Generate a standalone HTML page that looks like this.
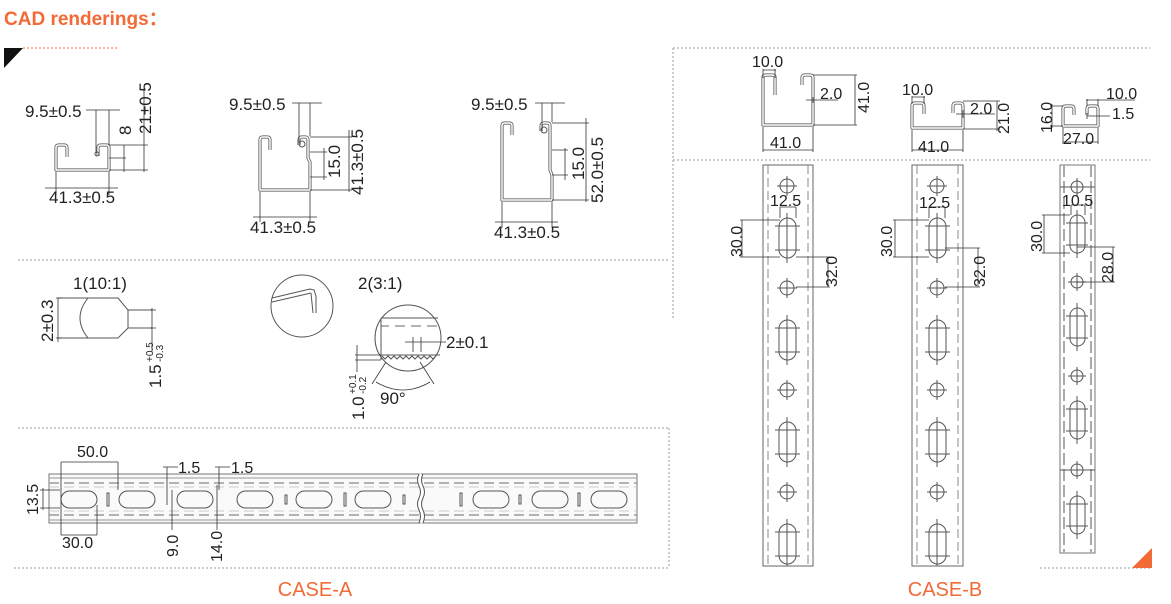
<!DOCTYPE html>
<html><head><meta charset="utf-8"><style>
html,body{margin:0;padding:0;background:#fff;}
svg{display:block;font-family:"Liberation Sans",Arial,sans-serif;}
.t{font-size:17px;fill:#222;}
.r{font-size:16px;fill:#222;}
.d{stroke:#333;stroke-width:0.8;fill:none;}
.ch{stroke:#666;stroke-width:3.2;fill:none;stroke-linejoin:round;}
.chi{stroke:#fff;stroke-width:1.4;fill:none;stroke-linejoin:round;}
.g{stroke:#999;stroke-width:1;stroke-dasharray:2 2;fill:none;}
.o{stroke:#555;stroke-width:1;fill:none;}
.dash{stroke:#888;stroke-width:1;stroke-dasharray:9 4;fill:none;}
</style></head><body>
<svg width="1171" height="604" viewBox="0 0 1171 604" xmlns="http://www.w3.org/2000/svg">
<text x="4" y="25" font-size="19" font-weight="bold" fill="#f26a35" font-family="Liberation Sans, Noto Sans CJK SC, sans-serif">CAD renderings：</text>
<polygon points="4,48 23,48 4,68" fill="#111"/>
<line x1="23" y1="48" x2="117" y2="48" stroke="#f26a35" stroke-width="1" stroke-dasharray="2 2"/>

<line class="g" x1="18" y1="260" x2="670" y2="260"/>
<line class="g" x1="18" y1="428" x2="670" y2="428"/>
<line class="g" x1="14" y1="568" x2="670" y2="568"/>
<line class="g" x1="669" y1="428" x2="669" y2="568"/>
<line class="g" x1="673" y1="48" x2="1150" y2="48"/>
<line class="g" x1="673" y1="48" x2="673" y2="320"/>
<line class="g" x1="673" y1="160" x2="1150" y2="160"/>
<line class="g" x1="1040" y1="568" x2="1150" y2="568"/>
<polygon points="1132,568 1152,548 1152,568" fill="#f26a35"/>

<!-- Profile 1 -->
<path class="ch" d="M67,157 V148 Q67,145 64,145 H59 Q56,145 56,148 V170 H109 V148 Q109,145 106,145 H101 Q98,145 98,148 V156"/>
<path class="chi" d="M67,157 V148 Q67,145 64,145 H59 Q56,145 56,148 V170 H109 V148 Q109,145 106,145 H101 Q98,145 98,148 V156"/>
<circle cx="97" cy="154" r="2" class="o"/>
<text class="t" x="25" y="117">9.5±0.5</text>
<path class="d" d="M86,110 H120 M96,110 V153 M109,110 V145 M109,145 H148 M109,170 H148 M109,158 H126 M124,145 V172 M144,88 V172 M56,172 V195 M109,172 V195 M45,188 H118"/>
<text class="t" transform="translate(131,135) rotate(-90)">8</text>
<text class="t" transform="translate(151,134) rotate(-90)">21±0.5</text>
<text class="t" x="49" y="203">41.3±0.5</text>

<!-- Profile 2 -->
<path class="ch" d="M270,150 V140 Q270,137 267,137 H263 Q260,137 260,140 V190 H310 V162 L308,158 V140 Q308,137 305,137 H302 Q299,137 299,141 V145"/>
<path class="chi" d="M270,150 V140 Q270,137 267,137 H263 Q260,137 260,140 V190 H310 V162 L308,158 V140 Q308,137 305,137 H302 Q299,137 299,141 V145"/>
<circle cx="302" cy="144" r="3" class="o"/>
<text class="t" x="229" y="110">9.5±0.5</text>
<path class="d" d="M292,103 H322 M299,103 V143 M310,103 V136 M310,137 H352 M310,190 H352 M310,152 H327 M310,177 H327 M324,148 V180 M349,130 V192 M260,192 V222 M310,192 V222 M253,217 H317"/>
<text class="t" transform="translate(340,178) rotate(-90)">15.0</text>
<text class="t" transform="translate(363,195) rotate(-90)">41.3±0.5</text>
<text class="t" x="250" y="233">41.3±0.5</text>

<!-- Profile 3 -->
<path class="ch" d="M512,135 V126 Q512,123 509,123 H505 Q502,123 502,126 V200 H552 V175 L550,170 V126 Q550,123 547,123 H544 Q541,123 541,127 V131"/>
<path class="chi" d="M512,135 V126 Q512,123 509,123 H505 Q502,123 502,126 V200 H552 V175 L550,170 V126 Q550,123 547,123 H544 Q541,123 541,127 V131"/>
<circle cx="544" cy="130" r="3" class="o"/>
<text class="t" x="471" y="110">9.5±0.5</text>
<path class="d" d="M535,103 H565 M542,103 V130 M552,103 V122 M552,123 H589 M552,200 H589 M552,150 H568 M552,175 H568 M565,148 V180 M586,118 V202 M502,202 V228 M552,202 V228 M495,222 H558"/>
<text class="t" transform="translate(584,180) rotate(-90)">15.0</text>
<text class="t" transform="translate(603,203) rotate(-90)">52.0±0.5</text>
<text class="t" x="494" y="238">41.3±0.5</text>

<!-- Detail 1 -->
<text class="t" x="73" y="289">1(10:1)</text>
<path class="o" d="M58,298 H118 L128,310 H152 M152,328 H128 L118,338 H58 M128,310 V328 M88,298 Q72,318 88,338"/>
<path class="d" d="M58,298 V342 M56,298 H62 M56,338 H62 M152,308 V352 M150,310 H156 M150,328 H156"/>
<text class="t" transform="translate(53,342) rotate(-90)">2±0.3</text>
<text class="t" transform="translate(161,388) rotate(-90)">1.5</text>
<text transform="translate(153,362) rotate(-90)" font-size="10" fill="#222">+0.5</text>
<text transform="translate(163,362) rotate(-90)" font-size="10" fill="#222">-0.3</text>

<!-- Detail 2 -->
<circle cx="302" cy="306" r="31" class="o"/>
<path class="o" d="M272,298 L310,289 L314,290 L316,296 L316,313 M272,302 L311,293 M311,293 L313,313"/>
<text class="t" x="358" y="289">2(3:1)</text>
<circle cx="408" cy="338" r="33" class="o"/>
<path class="o" d="M381,318 H438 M381,355 L440,355 M381,318 V360"/>
<path class="d" d="M381,326 H389 M395,326 H405 M411,326 H421 M427,326 H437" stroke-width="1.5"/>
<path class="o" d="M382,356 l3,3 l3,-3 l3,3 l3,-3 l3,3 l3,-3 l3,3 l3,-3 l3,3 l3,-3 l3,3 l3,-3 l3,3 l3,-3 l3,3 l3,-3 l3,3 l3,-3"/>
<path class="d" d="M405,342 H446 M413,337 V352 M421,337 V352 M355,355 H381 M355,360 H381 M357,345 V372 M386,362 L372,384 M420,362 L434,384 M376,382 Q403,398 430,382"/>
<text class="t" x="446" y="348">2±0.1</text>
<text class="t" x="380" y="404">90°</text>
<text class="t" transform="translate(364,420) rotate(-90)">1.0</text>
<text transform="translate(356,394) rotate(-90)" font-size="10" fill="#222">+0.1</text>
<text transform="translate(366,394) rotate(-90)" font-size="10" fill="#222">-0.2</text>

<!-- CASE-A strip -->
<rect x="49" y="474" width="588" height="49" fill="#fafafa" stroke="#777" stroke-width="1"/>
<path d="M49,478 H637 M49,520 H637" stroke="#aaa" stroke-width="1.2"/>
<path d="M49,483 H637 M49,515 H637" stroke="#999" stroke-width="1.5" stroke-dasharray="10 5"/>
<path d="M49,487 H637 M49,511 H637" stroke="#ccc" stroke-width="1" stroke-dasharray="10 5"/>
<path d="M421,474 q-3,6 0,12 q3,6 0,12 q-3,6 0,12 q3,6 0,13" stroke="#fff" stroke-width="3" fill="none"/>
<path d="M419,474 q-3,6 0,12 q3,6 0,12 q-3,6 0,12 q3,6 0,13 M423,474 q-3,6 0,12 q3,6 0,12 q-3,6 0,12 q3,6 0,13" class="o" stroke-width="0.8"/>
<g class="o" stroke="#666">
<rect x="61" y="491" width="36" height="17" rx="8.5"/>
<rect x="119" y="491" width="36" height="17" rx="8.5"/>
<rect x="177" y="491" width="36" height="17" rx="8.5"/>
<rect x="237" y="491" width="36" height="17" rx="8.5"/>
<rect x="296" y="491" width="36" height="17" rx="8.5"/>
<rect x="355" y="491" width="36" height="17" rx="8.5"/>
<rect x="473" y="491" width="36" height="17" rx="8.5"/>
<rect x="532" y="491" width="36" height="17" rx="8.5"/>
<rect x="591" y="491" width="36" height="17" rx="8.5"/>
<rect x="107" y="493" width="2" height="13"/>
<rect x="285" y="495" width="2" height="9"/>
<rect x="344" y="493" width="2" height="13"/>
<rect x="403" y="495" width="2" height="9"/>
<rect x="460" y="493" width="2" height="13"/>
<rect x="519" y="495" width="2" height="9"/>
<rect x="578" y="493" width="2" height="13"/>
</g>
<path class="d" d="M61,462 V514 M118,462 V490 M61,462 H118 M40,490 H60 M40,508 H60 M43,488 V510 M61,510 V535 M97,505 V535 M61,535 H97 M163,467 H178 M167,467 V505 M172,490 V530 M215,467 H230 M219,467 V490 M217,485 V530"/>
<text class="r" x="77" y="457">50.0</text>
<text class="r" x="178" y="473">1.5</text>
<text class="r" x="231" y="473">1.5</text>
<text class="r" transform="translate(38,515) rotate(-90)">13.5</text>
<text class="r" x="62" y="548">30.0</text>
<text class="r" transform="translate(178,557) rotate(-90)">9.0</text>
<text class="r" transform="translate(222,562) rotate(-90)">14.0</text>

<text x="315" y="596" text-anchor="middle" font-size="20" fill="#f26a35">CASE-A</text>
<text x="945" y="596" text-anchor="middle" font-size="20" fill="#f26a35">CASE-B</text>

<!-- B profiles -->
<path class="ch" d="M775,77 L775,95 M775,77 Q775,75 772,75 L766,75 Q763,75 763,78 L763,125 L813,125 L813,78 Q813,75 810,75 L805,75 Q802,75 802,78 L802,85"/>
<path class="chi" d="M775,77 L775,95 M775,77 Q775,75 772,75 L766,75 Q763,75 763,78 L763,125 L813,125 L813,78 Q813,75 810,75 L805,75 Q802,75 802,78 L802,85"/>
<text class="r" x="752" y="67">10.0</text>
<path class="d" d="M763,69 V78 M775,69 V78 M763,70 H776 M813,75 H857 M813,125 H857 M855,75 V125 M806,100 H838 M813,97 V103 M763,127 V152 M813,127 V152 M763,150 H813"/>
<text class="r" x="820" y="99">2.0</text>
<text class="r" transform="translate(869,113) rotate(-90)">41.0</text>
<text class="r" x="770" y="148">41.0</text>

<path class="ch" d="M924,106 L924,114 M924,106 Q924,103 921,103 L915,103 Q912,103 912,106 L912,128 L963,128 L963,106 Q963,103 960,103 L956,103 Q953,103 953,106 L953,113"/>
<path class="chi" d="M924,106 L924,114 M924,106 Q924,103 921,103 L915,103 Q912,103 912,106 L912,128 L963,128 L963,106 Q963,103 960,103 L956,103 Q953,103 953,106 L953,113"/>
<text class="r" x="902" y="95">10.0</text>
<path class="d" d="M912,96 V104 M924,96 V104 M912,97 H925 M963,101 H1000 M963,129 H1000 M997,101 V131 M956,114 H995 M963,110 V118 M912,130 V152 M963,130 V152 M912,150 H963"/>
<text class="r" x="970" y="114">2.0</text>
<text class="r" transform="translate(1009,134) rotate(-90)">21.0</text>
<text class="r" x="918" y="152">41.0</text>

<path class="ch" d="M1074,115 L1074,109 Q1074,106 1071,106 L1066,106 Q1063,106 1063,109 L1063,126 L1098,126 L1098,109 Q1098,106 1095,106 L1090,106 Q1087,106 1087,109 L1087,115"/>
<path class="chi" d="M1074,115 L1074,109 Q1074,106 1071,106 L1066,106 Q1063,106 1063,109 L1063,126 L1098,126 L1098,109 Q1098,106 1095,106 L1090,106 Q1087,106 1087,109 L1087,115"/>
<path class="d" d="M1050,106 H1063 M1050,126 H1063 M1052,104 V128 M1087,99 V106 M1098,99 V106 M1086,100 H1135 M1087,116 H1110 M1087,113 V119 M1063,128 V144 M1098,128 V144 M1063,142 H1098"/>
<text class="r" transform="translate(1052,133) rotate(-90)">16.0</text>
<text class="r" x="1106" y="99">10.0</text>
<text class="r" x="1112" y="119">1.5</text>
<text class="r" x="1063" y="144">27.0</text>

<!-- B strips -->
<rect x="763" y="165" width="50" height="401" fill="#fff" stroke="#666"/>
<line class="dash" x1="768" y1="165" x2="768" y2="566"/>
<line class="dash" x1="808" y1="165" x2="808" y2="566"/>
<rect x="912" y="165" width="51" height="401" fill="#fff" stroke="#666"/>
<line class="dash" x1="917" y1="165" x2="917" y2="566"/>
<line class="dash" x1="958" y1="165" x2="958" y2="566"/>
<rect x="1060" y="165" width="35" height="388" fill="#fff" stroke="#777"/>
<line x1="1064" y1="165" x2="1064" y2="553" stroke="#aaa" stroke-width="2" stroke-dasharray="12 4"/>
<line x1="1091" y1="165" x2="1091" y2="553" stroke="#aaa" stroke-width="2" stroke-dasharray="12 4"/>
<line class="o" x1="1060" y1="187" x2="1095" y2="187"/>
<line class="o" x1="1060" y1="470" x2="1095" y2="470"/>
<g class="o" stroke="#555" stroke-width="0.8">
<circle cx="787" cy="186" r="7"/><path d="M777,186 H797 M787,176 V196"/>
<rect x="779" y="218" width="17" height="40" rx="8.5"/><path d="M787,213 V263 M775,226 H800 M775,250 H800"/>
<circle cx="787" cy="288" r="7"/><path d="M777,288 H797 M787,278 V298"/>
<rect x="779" y="320" width="17" height="40" rx="8.5"/><path d="M787,315 V365 M775,328 H800 M775,352 H800"/>
<circle cx="787" cy="390" r="7"/><path d="M777,390 H797 M787,380 V400"/>
<rect x="779" y="422" width="17" height="40" rx="8.5"/><path d="M787,417 V467 M775,430 H800 M775,454 H800"/>
<circle cx="787" cy="492" r="7"/><path d="M777,492 H797 M787,482 V502"/>
<rect x="779" y="524" width="17" height="40" rx="8.5"/><path d="M787,519 V566 M775,532 H800 M775,556 H800"/>
<circle cx="937" cy="186" r="7"/><path d="M927,186 H947 M937,176 V196"/>
<rect x="929" y="218" width="17" height="40" rx="8.5"/><path d="M937,213 V263 M925,226 H950 M925,250 H950"/>
<circle cx="937" cy="288" r="7"/><path d="M927,288 H947 M937,278 V298"/>
<rect x="929" y="320" width="17" height="40" rx="8.5"/><path d="M937,315 V365 M925,328 H950 M925,352 H950"/>
<circle cx="937" cy="390" r="7"/><path d="M927,390 H947 M937,380 V400"/>
<rect x="929" y="422" width="17" height="40" rx="8.5"/><path d="M937,417 V467 M925,430 H950 M925,454 H950"/>
<circle cx="937" cy="492" r="7"/><path d="M927,492 H947 M937,482 V502"/>
<rect x="929" y="524" width="17" height="40" rx="8.5"/><path d="M937,519 V566 M925,532 H950 M925,556 H950"/>
<circle cx="1077" cy="187" r="6"/><path d="M1068,187 H1086 M1077,178 V196"/>
<rect x="1070" y="215" width="15" height="38" rx="7.5"/><path d="M1077,210 V258 M1066,223 H1088 M1066,245 H1088"/>
<circle cx="1077" cy="282" r="6"/><path d="M1068,282 H1086 M1077,273 V291"/>
<rect x="1070" y="308" width="15" height="38" rx="7.5"/><path d="M1077,303 V351 M1066,316 H1088 M1066,338 H1088"/>
<circle cx="1077" cy="376" r="6"/><path d="M1068,376 H1086 M1077,367 V385"/>
<rect x="1070" y="401" width="15" height="38" rx="7.5"/><path d="M1077,396 V444 M1066,409 H1088 M1066,431 H1088"/>
<circle cx="1077" cy="470" r="6"/><path d="M1068,470 H1086 M1077,461 V479"/>
<rect x="1070" y="496" width="15" height="38" rx="7.5"/><path d="M1077,491 V539 M1066,504 H1088 M1066,526 H1088"/>
</g>
<path class="d" d="M780,207 V218 M796,207 V218 M780,207 H796 M740,220 H780 M740,257 H780 M742,220 V257 M796,257 H830 M796,287 H830 M828,257 V287"/>
<text class="r" x="770" y="206">12.5</text>
<text class="r" transform="translate(742,257) rotate(-90)">30.0</text>
<text class="r" transform="translate(837,287) rotate(-90)">32.0</text>
<path class="d" d="M929,207 V218 M945,207 V218 M929,207 H945 M893,220 H929 M893,257 H929 M895,220 V257 M945,248 H980 M945,287 H980 M978,248 V287"/>
<text class="r" x="919" y="208">12.5</text>
<text class="r" transform="translate(892,257) rotate(-90)">30.0</text>
<text class="r" transform="translate(985,287) rotate(-90)">32.0</text>
<path class="d" d="M1071,205 V215 M1085,205 V215 M1071,205 H1085 M1042,215 H1070 M1042,253 H1070 M1044,215 V253 M1077,247 H1115 M1077,282 H1115 M1113,247 V282"/>
<text class="r" x="1062" y="206">10.5</text>
<text class="r" transform="translate(1042,252) rotate(-90)">30.0</text>
<text class="r" transform="translate(1113,283) rotate(-90)">28.0</text>
</svg>
</body></html>
